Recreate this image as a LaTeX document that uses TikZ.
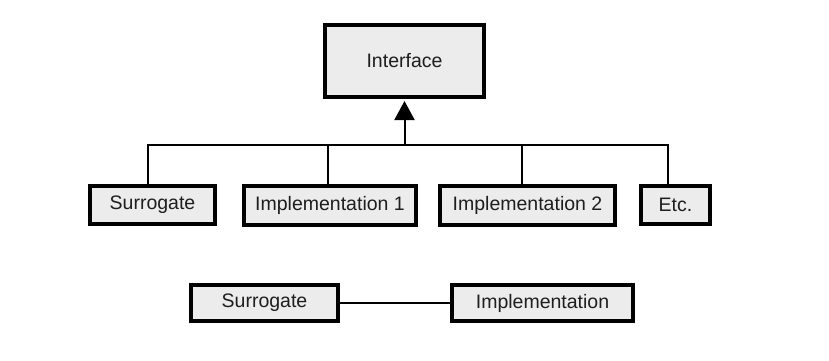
\documentclass[tikz,border=0pt]{standalone}
\usepackage{fontspec}
\setmainfont{Liberation Sans}
\usetikzlibrary{arrows.meta}
\definecolor{boxfill}{HTML}{ECECEC}
\definecolor{txt}{HTML}{1E1E1E}
\begin{document}
\begin{tikzpicture}[x=1pt,y=-1pt,
  box/.style={draw=black, line width=4pt, fill=boxfill, inner sep=0pt, text=txt,
    font=\fontsize{19.5}{22}\selectfont},
  conn/.style={line width=2pt, draw=black}]
\useasboundingbox (0,0) rectangle (829,361);
% boxes (path size = outer size - line width)
\node[box, minimum width=159pt, minimum height=72pt] (iface) at (404.5,61) {Interface};
\node[box, minimum width=125pt, minimum height=38pt] (sur) at (152.5,205) {Surrogate};
\node[box, minimum width=172pt, minimum height=39pt] (imp1) at (330,205.5) {Implementation 1};
\node[box, minimum width=175pt, minimum height=39pt] (imp2) at (527.5,205.5) {Implementation 2};
\node[box, minimum width=69pt, minimum height=38pt] (etc) at (675.5,205) {Etc.};
\node[box, minimum width=147pt, minimum height=36pt] (sur2) at (264.5,303) {Surrogate};
\node[box, minimum width=181pt, minimum height=36pt] (imp) at (542.5,303) {Implementation};
% bus coordinates
\coordinate (bl) at (148,145);
\coordinate (br) at (668,145);
\coordinate (b1) at (328,145);
\coordinate (b2) at (522,145);
\coordinate (bm) at (iface.south |- bl);
% connectors
\draw[conn] (sur.north -| bl) -- (bl) -- (br) -- (etc.north -| br);
\draw[conn] (b1) -- (b1 |- imp1.north);
\draw[conn] (b2) -- (b2 |- imp2.north);
\draw[conn, -{Triangle[width=20pt,length=19pt]}] (bm) -- ([yshift=-2pt]iface.south);
\draw[conn] (sur2.east) -- (imp.west);
\end{tikzpicture}
\end{document}
